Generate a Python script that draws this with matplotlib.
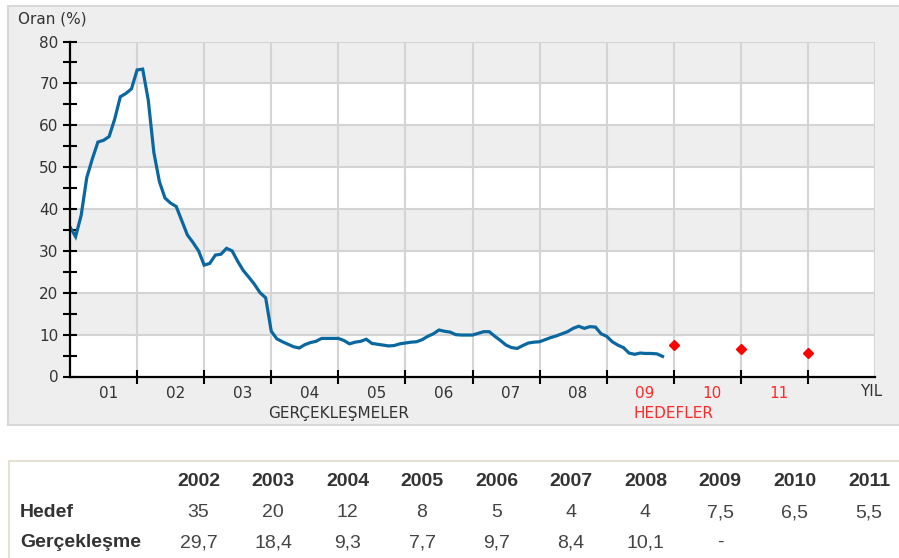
import numpy as np
import matplotlib
matplotlib.use('Agg')
import matplotlib.pyplot as plt
from matplotlib.patches import Rectangle
from matplotlib.lines import Line2D

# yillik enflasyon (%), aylik, Ocak 2001'den itibaren
gercek_2001 = [35.7, 33.4, 38.5, 47.5, 52.0, 56.0, 56.4, 57.3, 61.5, 66.8, 67.6, 68.7]
gercek_2002 = [73.2, 73.4, 66.0, 53.5, 46.5, 42.6, 41.4, 40.6, 37.2, 33.8, 32.0, 30.0]
gercek_2003 = [26.6, 27.0, 29.0, 29.2, 30.6, 30.0, 27.5, 25.3, 23.7, 22.0, 20.0, 18.8]
gercek_2004 = [10.8, 9.0, 8.3, 7.7, 7.1, 6.8, 7.6, 8.1, 8.4, 9.1, 9.1, 9.1]
gercek_2005 = [9.1, 8.6, 7.8, 8.2, 8.4, 8.9, 7.9, 7.7, 7.5, 7.3, 7.4, 7.8]
gercek_2006 = [8.0, 8.2, 8.3, 8.8, 9.6, 10.2, 11.1, 10.8, 10.6, 10.0, 9.9, 9.9]
gercek_2007 = [9.9, 10.3, 10.7, 10.7, 9.6, 8.6, 7.5, 6.9, 6.7, 7.4, 8.0, 8.2]
gercek_2008 = [8.3, 8.8, 9.3, 9.7, 10.2, 10.7, 11.5, 12.0, 11.5, 11.9, 11.8, 10.2]
gercek_2009 = [9.6, 8.3, 7.5, 6.9, 5.6, 5.3, 5.6, 5.5, 5.5, 5.4, 4.8]

# hedefler (yil sonu)
hedef_yillar = [2009, 2010, 2011]
hedef_degerler = [7.5, 6.5, 5.5]

# x ekseni yil etiketleri
yil_etiketleri = ['01', '02', '03', '04', '05', '06', '07', '08', '09', '10', '11']

# alttaki tablo
tablo_yillar = ['2002', '2003', '2004', '2005', '2006', '2007', '2008', '2009', '2010', '2011']
tablo_hedef = ['35', '20', '12', '8', '5', '4', '4', '7,5', '6,5', '5,5']
tablo_gercek = ['29,7', '18,4', '9,3', '7,7', '9,7', '8,4', '10,1', '-', '', '']

W, H = 899, 558
fig = plt.figure(figsize=(W / 100, H / 100), dpi=100)

#gri panel
fig.patches.append(Rectangle((8 / W, 1 - 425 / H), 1.0, (425 - 6) / H, transform=fig.transFigure,
                             facecolor='#eeeeee', edgecolor='#d8d8d8', lw=1.5, zorder=-1))

ax = fig.add_axes([70 / W, 1 - 376.5 / H, 805 / W, 335 / H])
ax.set_zorder(1)
ax.set_facecolor('white')
ax.set_xlim(2001, 2013)
ax.set_ylim(0, 80)

for alt in (10, 30, 50, 70):
    ax.axhspan(alt, alt + 10, color='#eeeeee', lw=0, zorder=0)
for y in range(10, 90, 10):
    ax.axhline(y, color='#d4d4d4', lw=1.5, zorder=1)
for x in range(2002, 2014):
    ax.axvline(x, color='#d4d4d4', lw=1.5, zorder=1)

for s in ['top', 'right']:
    ax.spines[s].set_visible(False)
for s in ['left', 'bottom']:
    ax.spines[s].set_linewidth(1.6)
    ax.spines[s].set_color('black')
    ax.spines[s].set_zorder(5)

gercek = gercek_2001 + gercek_2002 + gercek_2003 + gercek_2004 + gercek_2005 + gercek_2006 + gercek_2007 + gercek_2008 + gercek_2009
aylar = 2001 + np.arange(len(gercek)) / 12
ax.plot(aylar, gercek, color='#0a679f', lw=2.3, zorder=3, solid_joinstyle='miter')

ax.plot(np.array(hedef_yillar) + 1, hedef_degerler, 'D', color='#ff0000', ms=5.5, zorder=4, clip_on=False)

# eksenler
afs = 11
ax.set_yticks(range(0, 90, 10))
ax.set_yticks(range(5, 80, 10), minor=True)
ax.tick_params(axis='y', which='both', direction='inout', length=10, width=1.5, color='black',
               labelsize=afs, labelcolor='#333333', pad=3.2)
ax.set_xticks(range(2002, 2013))
ax.set_xticklabels([])
ax.tick_params(axis='x', which='major', direction='inout', length=9.5, width=1.5, color='black')

tr = ax.get_xaxis_transform()
for i, et in enumerate(yil_etiketleri):
    renk = '#ff2a2a' if 2001 + i >= 2009 else '#333333'
    ax.text(2001 + i + 0.57, -0.05, et, transform=tr, ha='center', va='center', fontsize=afs, color=renk)
ax.text(2005.0, -0.109, 'GERÇEKLEŞMELER', transform=tr, ha='center', va='center', fontsize=afs, color='#333333')
ax.text(2010.0, -0.109, 'HEDEFLER', transform=tr, ha='center', va='center', fontsize=afs, color='#ff2a2a')
ax.text(2012.94, -0.044, 'YIL', transform=tr, ha='center', va='center', fontsize=afs, color='#333333')

fig.text(18 / W, 1 - 19 / H, 'Oran (%)', ha='left', va='center', fontsize=afs, color='#333333')

# tablo
fig.add_artist(Line2D([9 / W, 1], [1 - 461 / H, 1 - 461 / H], color='#e6e2d3', lw=1.5))
fig.add_artist(Line2D([9 / W, 9 / W], [0, 1 - 461 / H], color='#e6e2d3', lw=1.5))

tf = 'Liberation Sans'
fs = 14
satir_y = [486, 517, 547]
fig.text(20 / W, 1 - satir_y[1] / H, 'Hedef', ha='left', va='baseline', fontsize=fs,
         fontweight='bold', color='#333333', family=tf)
fig.text(20 / W, 1 - satir_y[2] / H, 'Gerçekleşme', ha='left', va='baseline', fontsize=fs,
         fontweight='bold', color='#333333', family=tf)
for j, yil in enumerate(tablo_yillar):
    xc = (198.5 + 74.5 * j) / W
    fig.text(xc, 1 - satir_y[0] / H, yil, ha='center', va='baseline', fontsize=fs,
             fontweight='bold', color='#333333', family=tf)
    fig.text(xc, 1 - satir_y[1] / H, tablo_hedef[j], ha='center', va='baseline', fontsize=fs,
             color='#444444', family=tf)
    if tablo_gercek[j]:
        fig.text(xc, 1 - satir_y[2] / H, tablo_gercek[j], ha='center', va='baseline', fontsize=fs,
                 color='#444444', family=tf)

fig.savefig('out.png', dpi=100)
